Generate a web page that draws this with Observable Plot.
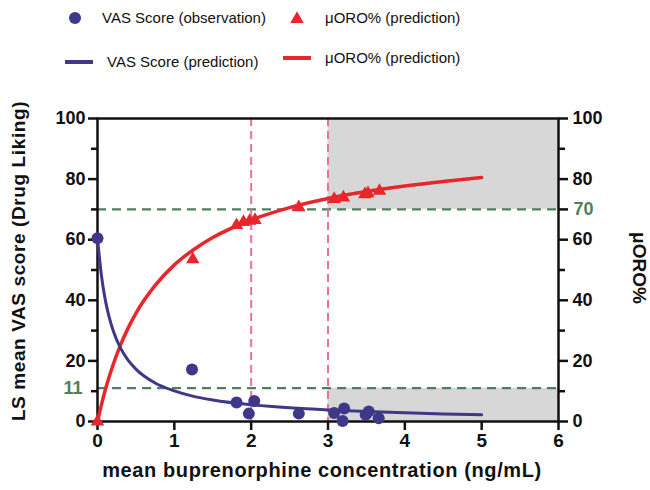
<!DOCTYPE html>
<html>
<head>
<meta charset="utf-8">
<script src="https://cdn.jsdelivr.net/npm/d3@7"></script>
<script src="https://cdn.jsdelivr.net/npm/@observablehq/plot@0.6"></script>
<style>
  body { margin: 0; background: #fff; font-family: "Liberation Sans", Arial, sans-serif; }
  #legend { position: relative; width: 650px; height: 80px; }
  #legend .item { position: absolute; font-size: 15px; color: #111; white-space: nowrap; line-height: 1; }
  #legend svg { position: absolute; overflow: visible; }
</style>
</head>
<body>
<div id="legend"></div>
<div id="chart"></div>
<script>
// Observed LS mean VAS score (drug liking) by mean buprenorphine concentration
const vasObsConc = [0, 1.23, 1.81, 1.97, 2.04, 2.62, 3.08, 3.19, 3.21, 3.49, 3.53, 3.66];
const vasObsScore = [60.5, 17.2, 6.3, 2.6, 6.8, 2.6, 2.8, 0.2, 4.3, 2.2, 3.3, 1.1];

// Predicted mu-opioid receptor occupancy at the same concentrations
const oroPtConc = [0, 1.24, 1.81, 1.9, 1.98, 2.05, 2.62, 3.08, 3.2, 3.48, 3.52, 3.67];
const oroPtValue = [0, 53.5, 64.8, 65.8, 66.2, 66.5, 70.7, 73.4, 73.9, 75.0, 75.3, 76.1];

// Model prediction curves
const predConc = [0, 0.05, 0.1, 0.15, 0.2, 0.3, 0.4, 0.5, 0.75, 1, 1.25, 1.5, 2, 2.5, 3, 3.5, 4, 4.5, 5];
const vasPred = [60.5, 48.4, 40.3, 34.6, 30.3, 24.2, 20.2, 17.3, 12.7, 10.1, 8.3, 7.1, 5.5, 4.5, 3.8, 3.3, 2.9, 2.5, 2.2];
const oroPred = [0, 5.4, 10.3, 14.6, 18.5, 25.3, 30.9, 35.7, 44.9, 51.7, 56.7, 60.7, 66.5, 70.6, 73.6, 75.9, 77.7, 79.2, 80.5];

// Reference thresholds and shaded target zone
const thresholdLevels = [70, 11];
const thresholdConc = [2, 3];
const zoneX1 = [3, 3], zoneX2 = [6, 6], zoneY1 = [70, 0], zoneY2 = [100, 11];

// Tick values
const xTicks = [0, 1, 2, 3, 4, 5, 6];
const yMajor = [0, 20, 40, 60, 80, 100];
const yMinorLeft = [10, 30, 50, 70, 90];
const yMinorRight = [10, 30, 50, 90];

const purple = "#3f3787";
const red = "#e8262b";
const green = "#4f7f5c";
const pink = "#e8719f";

const titleY = "LS mean VAS score (Drug Liking)";
const titleY2 = "\u03bcORO%";
const titleX = "mean buprenorphine concentration (ng/mL)";

const vasObs = vasObsConc.map((c, i) => ({c, v: vasObsScore[i]}));
const oroPts = oroPtConc.map((c, i) => ({c, v: oroPtValue[i]}));
const vasLine = predConc.map((c, i) => ({c, v: vasPred[i]}));
const oroLine = predConc.map((c, i) => ({c, v: oroPred[i]}));
const zones = zoneX1.map((x1, i) => ({x1, x2: zoneX2[i], y1: zoneY1[i], y2: zoneY2[i]}));

const tickFont = {fontSize: 18, fontWeight: "bold"};
const intFmt = d3.format("d");

const chart = Plot.plot({
  width: 650,
  height: 410,
  marginLeft: 97,
  marginRight: 92,
  marginTop: 38,
  marginBottom: 69,
  style: {fontFamily: "'Liberation Sans', Arial, sans-serif", color: "#111", background: "#fff", overflow: "visible"},
  x: {domain: [0, 6]},
  y: {domain: [0, 100]},
  marks: [
    Plot.rect(zones, {x1: "x1", x2: "x2", y1: "y1", y2: "y2", fill: "#d7d7d7"}),
    Plot.ruleY(thresholdLevels, {stroke: green, strokeWidth: 2.2, strokeDasharray: "9,6"}),
    Plot.ruleX(thresholdConc, {stroke: pink, strokeWidth: 2, strokeDasharray: "8,5"}),

    // left axis
    Plot.axisY({anchor: "left", ticks: yMajor, tickSize: 9, tickPadding: 3, strokeWidth: 2.5, label: null, tickFormat: intFmt, ...tickFont}),
    Plot.axisY({anchor: "left", ticks: yMinorLeft, tickSize: 6, strokeWidth: 2.5, tickFormat: () => "", label: null}),
    Plot.text([11], {y: d => d, frameAnchor: "left", dx: -15, textAnchor: "end", fill: green, ...tickFont}),

    // right axis
    Plot.axisY({anchor: "right", ticks: yMajor, tickSize: 9, tickPadding: 5, strokeWidth: 2.5, label: null, tickFormat: intFmt, ...tickFont}),
    Plot.axisY({anchor: "right", ticks: yMinorRight, tickSize: 6, strokeWidth: 2.5, tickFormat: () => "", label: null}),
    Plot.axisY({anchor: "right", ticks: [70], tickSize: 9, strokeWidth: 2.5, tickFormat: () => "", label: null}),
    Plot.text([70], {y: d => d, frameAnchor: "right", dx: 15, textAnchor: "start", fill: green, ...tickFont}),

    // bottom axis
    Plot.axisX({ticks: xTicks, tickSize: 9, tickPadding: 3, strokeWidth: 2.5, label: null, tickFormat: intFmt, fontSize: 19, fontWeight: "bold"}),

    Plot.frame({stroke: "#111", strokeWidth: 2.5}),

    // axis titles
    Plot.text([titleY], {frameAnchor: "left", textAnchor: "middle", dx: -79, dy: -9, rotate: -90, fontSize: 19, fontWeight: "bold"}),
    Plot.text([titleY2], {frameAnchor: "right", textAnchor: "middle", dx: 81, dy: -2, rotate: 90, fontSize: 19, fontWeight: "bold"}),
    Plot.text([titleX], {frameAnchor: "bottom", textAnchor: "middle", dy: 49, dx: -6, fontSize: 20, fontWeight: "bold", lineAnchor: "middle"}),

    // prediction curves
    Plot.line(oroLine, {x: "c", y: "v", stroke: red, strokeWidth: 3.5, curve: "monotone-x"}),
    Plot.line(vasLine, {x: "c", y: "v", stroke: purple, strokeWidth: 3, curve: "monotone-x"}),

    // points
    Plot.dot(oroPts, {x: "c", y: "v", symbol: "triangle", r: 5, fill: red, stroke: "none"}),
    Plot.dot(vasObs, {x: "c", y: "v", r: 6, fill: purple, stroke: "none"})
  ]
});
// slightly open up the axis titles
d3.select(chart).selectAll("text")
  .filter(function () { return [titleY, titleX].includes(this.textContent); })
  .style("letter-spacing", "0.6px");
document.getElementById("chart").appendChild(chart);

// Legend
const legend = document.getElementById("legend");
const ns = "http://www.w3.org/2000/svg";
function swatch(left, top, w, h, inner) {
  const s = document.createElementNS(ns, "svg");
  s.setAttribute("width", w);
  s.setAttribute("height", h);
  s.style.left = left + "px";
  s.style.top = top + "px";
  s.innerHTML = inner;
  legend.appendChild(s);
}
function label(left, centerY, text) {
  const d = document.createElement("div");
  d.className = "item";
  d.textContent = text;
  d.style.left = left + "px";
  d.style.top = (centerY - 8) + "px";
  legend.appendChild(d);
}
swatch(69, 12, 12, 12, `<circle cx="6" cy="6" r="6" fill="${purple}"/>`);
label(102, 18, "VAS Score (observation)");
const tri = d3.symbol(d3.symbolTriangle, 25 * Math.PI)();
swatch(291, 13, 12, 12, `<path transform="translate(6,6)" d="${tri}" fill="${red}"/>`);
label(325, 18, "\u03bcORO% (prediction)");
swatch(65, 60, 28, 4, `<rect width="28" height="4" fill="${purple}"/>`);
label(107, 62, "VAS Score (prediction)");
swatch(283, 56, 28, 4, `<rect width="28" height="4" fill="${red}"/>`);
label(325, 58, "\u03bcORO% (prediction)");
</script>
</body>
</html>
